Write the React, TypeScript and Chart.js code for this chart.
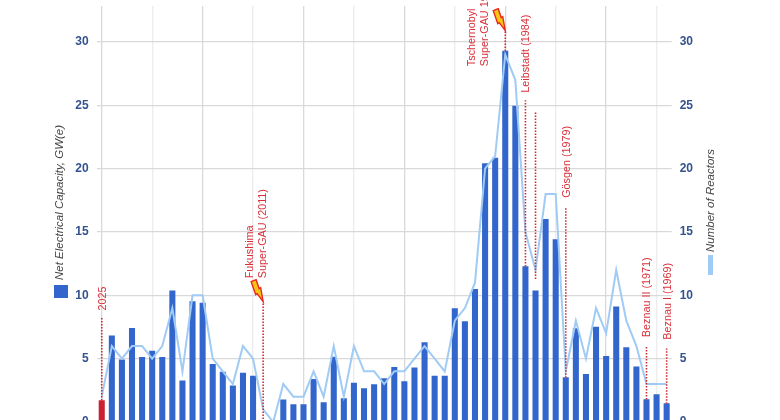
import React, { useEffect, useRef } from "react";
import { Chart, registerables } from "chart.js";

Chart.register(...registerables);

const years = Array.from({ length: 57 }, (_, i) => String(2025 - i));
const capacity = [
  1.7, 6.8, 4.9, 7.4, 5.1, 5.6, 5.1, 10.35, 3.25, 9.5, 9.4, 4.55, 3.95, 2.85, 3.87, 3.63,
  0, 0, 1.75, 1.37, 1.37, 3.37, 1.53, 5.13, 1.85, 3.08, 2.63, 2.95, 3.43, 4.32, 3.19, 4.27,
  6.27, 3.63, 3.63, 8.95, 7.93, 10.48, 20.4, 20.85, 29.3, 24.95, 12.27, 10.35, 16.0, 14.4,
  3.5, 7.37, 3.77, 7.5, 5.19, 9.09, 5.87, 4.35, 1.77, 2.16, 1.45,
];
const reactors = [
  2, 6, 5, 6, 6, 5, 6, 9, 4, 10, 10, 5, 4, 3, 6, 5,
  1, 0, 3, 2, 2, 4, 2, 6, 2, 6, 4, 4, 3, 4, 4, 5,
  6, 5, 4, 8, 9, 11, 20, 21, 29, 27, 15, 12, 18, 18,
  4, 8, 5, 9, 7, 12, 8, 6, 3, 3, 3,
];
const barColors = capacity.map((_, i) => (i === 0 ? "#cc1f2f" : "#3366cc"));

const RED = "#d8313a";
type Note = { index: number; from: number; to: number; lines: string[]; textBase: number; shift: number; bolt?: boolean };
const notes: Note[] = [
  { index: 0, from: 1.7, to: 8.3, lines: ["2025"], textBase: 8.8, shift: 1 },
  { index: 16, from: 0, to: 9.5, lines: ["Fukushima", "Super-GAU (2011)"], textBase: 11.35, shift: 0, bolt: true },
  { index: 40, from: 29.3, to: 30.9, lines: ["Tschernobyl", "Super-GAU 1986"], textBase: 28.1, shift: -20, bolt: true },
  { index: 42, from: 12.27, to: 25.4, lines: ["Leibstadt (1984)"], textBase: 26.0, shift: 1 },
  { index: 43, from: 11.3, to: 24.5, lines: [], textBase: 0, shift: 0 },
  { index: 46, from: 3.5, to: 17.0, lines: ["Gösgen (1979)"], textBase: 17.7, shift: 1 },
  { index: 54, from: 1.77, to: 6.0, lines: ["Beznau II (1971)"], textBase: 6.7, shift: 1 },
  { index: 56, from: 1.45, to: 5.8, lines: ["Beznau I (1969)"], textBase: 6.5, shift: 1 },
];

const overlay = {
  id: "overlay",
  afterDatasetsDraw(chart: any) {
    const { ctx, scales } = chart;
    const x = scales.x, y = scales.y;
    ctx.save();
    notes.forEach((n) => {
      const px = x.getPixelForValue(n.index);
      ctx.strokeStyle = "#cf2b2f";
      ctx.lineWidth = 1.6;
      ctx.setLineDash([1.5, 1.5]);
      ctx.beginPath();
      ctx.moveTo(px, y.getPixelForValue(n.from));
      ctx.lineTo(px, y.getPixelForValue(n.to));
      ctx.stroke();
      ctx.setLineDash([]);
      const top = y.getPixelForValue(n.to);
      if (n.bolt) {
        const shape = [[0, 0], [-6, -8], [-7.5, -7], [-12, -20], [-7, -22], [-4, -13], [-2.5, -14]];
        ctx.beginPath();
        shape.forEach(([dx, dy], i) => {
          if (i === 0) ctx.moveTo(px + dx, top + dy);
          else ctx.lineTo(px + dx, top + dy);
        });
        ctx.closePath();
        ctx.fillStyle = "#f7c515";
        ctx.strokeStyle = "#e8261c";
        ctx.lineWidth = 1.4;
        ctx.fill();
        ctx.stroke();
      }
      ctx.fillStyle = RED;
      ctx.font = "10.8px 'Liberation Sans'";
      const base = y.getPixelForValue(n.textBase);
      n.lines.forEach((line, i) => {
        ctx.save();
        const lx = px + n.shift + (i - n.lines.length + 1) * 13;
        ctx.translate(lx, base);
        ctx.rotate(-Math.PI / 2);
        ctx.textAlign = "left";
        ctx.textBaseline = "middle";
        ctx.fillText(line, 0, 0);
        ctx.restore();
      });
    });

    const axisNote = (text: string, tx: number, ty: number) => {
      ctx.save();
      ctx.translate(tx, ty);
      ctx.rotate(-Math.PI / 2);
      ctx.font = "italic 11.5px 'Liberation Sans'";
      ctx.fillStyle = "#444444";
      ctx.textAlign = "left";
      ctx.textBaseline = "middle";
      ctx.fillText(text, 0, 0);
      ctx.restore();
    };
    ctx.fillStyle = "#3366cc";
    ctx.fillRect(54, 285, 14, 13);
    axisNote("Net Electrical Capacity, GW(e)", 60, 280);
    ctx.fillStyle = "#9fcbf5";
    ctx.fillRect(708, 255, 5, 20);
    axisNote("Number of Reactors", 711, 252);
    ctx.restore();
  },
};

const tickFont = { family: "'Liberation Sans'", size: 12, weight: "bold" as const };
const onlyFives = (scale: any) => {
  scale.ticks = scale.ticks.filter((t: any) => t.value % 5 === 0);
};
const fitY = (width: number) => (s: any) => {
  s.width = width;
  s.paddingTop = 0;
  s.paddingBottom = 0;
};

export default function App() {
  const ref = useRef<HTMLCanvasElement>(null);
  useEffect(() => {
    const chart = new Chart(ref.current!, {
      data: {
        labels: years,
        datasets: [
          {
            type: "line",
            label: "Number of Reactors",
            data: reactors,
            yAxisID: "y2",
            borderColor: "#9fcbf5",
            borderWidth: 2,
            pointRadius: 0,
            tension: 0,
            order: 0,
          },
          {
            type: "bar",
            label: "Net Electrical Capacity, GW(e)",
            data: capacity,
            yAxisID: "y",
            backgroundColor: barColors,
            barThickness: 5.4,
            order: 1,
          },
        ],
      } as any,
      options: {
        animation: false,
        responsive: false,
        layout: { padding: { top: 6, bottom: 18, left: 0, right: 0 } },
        plugins: { legend: { display: false }, title: { display: false }, tooltip: { enabled: false } },
        scales: {
          x: {
            offset: true,
            border: { display: false },
            ticks: { display: false, autoSkip: false },
            afterFit: (s: any) => { s.height = 0; s.paddingLeft = 0; s.paddingRight = 0; },
            grid: {
              drawTicks: false,
              offset: false,
              lineWidth: (c: any) => (c.index % 5 === 0 ? 1.3 : 0),
              color: (c: any) => (c.index % 10 === 0 ? "#d9d9d9" : "#ececec"),
            },
          },
          y: {
            position: "left",
            min: 0,
            max: 32.85,
            border: { display: false },
            ticks: { stepSize: 5, color: "#34528f", font: tickFont, padding: 8 },
            grid: { drawTicks: false, color: "#d9d9d9", lineWidth: 1.3 },
            afterBuildTicks: onlyFives,
            afterFit: fitY(96.7),
          },
          y2: {
            position: "right",
            min: 0,
            max: 32.85,
            border: { display: false },
            ticks: { stepSize: 5, color: "#34528f", font: tickFont, padding: 8 },
            grid: { display: false, drawTicks: false },
            afterBuildTicks: onlyFives,
            afterFit: fitY(108.3),
          },
        },
      },
      plugins: [overlay],
    } as any);
    return () => chart.destroy();
  }, []);
  return (
    <div style={{ position: "fixed", left: 0, top: 0, width: 780, height: 420, overflow: "hidden", background: "#fff" }}>
      <canvas ref={ref} width={780} height={440} style={{ display: "block" }} />
    </div>
  );
}
